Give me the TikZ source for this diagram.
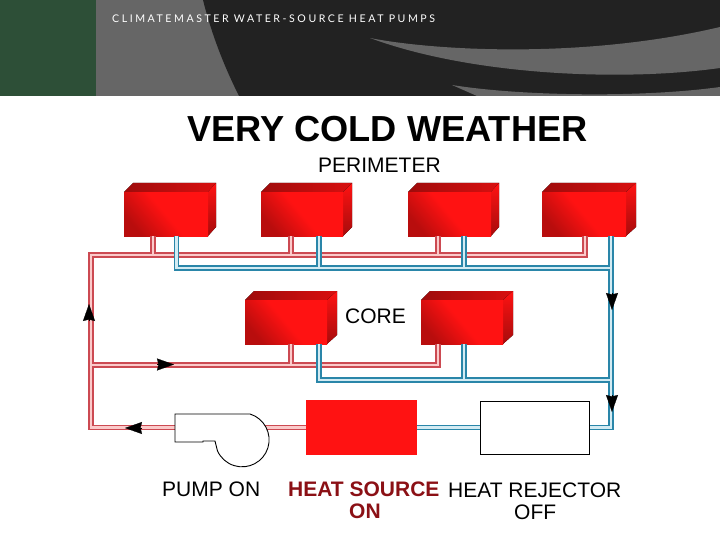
\documentclass[tikz,border=0pt]{standalone}
\usepackage{fontspec}
\setmainfont{Liberation Sans}
\newfontfamily\bannerfont[LetterSpace=24]{Lato}
\usetikzlibrary{arrows.meta,positioning,calc}
\definecolor{bannergreen}{HTML}{2D4F37}
\definecolor{bannergray}{HTML}{666666}
\definecolor{bannerdark}{HTML}{222222}
\definecolor{boxred}{HTML}{FF1212}
\definecolor{labelred}{HTML}{8B1015}
\definecolor{redwall}{HTML}{CC4A52}
\definecolor{redcore}{HTML}{FBCACA}
\definecolor{bluewall}{HTML}{2A86A9}
\definecolor{bluecore}{HTML}{D3EBF3}
\tikzset{
  redpipe/.style={draw=redwall, line width=1.3pt, double=redcore, double distance=2.8pt},
  bluepipe/.style={draw=bluewall, line width=1.3pt, double=bluecore, double distance=2.8pt},
  flowtip/.style={-{Stealth[length=17pt,width=12pt,inset=1.5pt]}, black, line width=0.2pt},
  caption/.style={inner sep=0pt, anchor=west, font=\fontsize{21}{21}\selectfont, text=black},
  redcaption/.style={caption, text=labelred, font=\fontsize{21}{21}\selectfont\bfseries},
  frontface/.style={anchor=north west, inner sep=0pt, minimum height=44pt,
    top color=boxred, bottom color=boxred!72!black, middle color=boxred, shading angle=-50}
}
\begin{document}
\begin{tikzpicture}[x=1pt,y=-1pt]
\useasboundingbox (0,0) rectangle (720,540);
% banner
\fill[bannergray] (0,0) rectangle (720,96);
\fill[bannergreen] (0,0) rectangle (96,96);
\fill[bannerdark] (203,0) .. controls (212,36) and (225,68) .. (239,96) -- (720,96) -- (720,0) -- cycle;
\fill[bannergray] (370,38) .. controls (430,50) and (580,60) .. (720,27) -- (720,68)
  .. controls (620,82) and (470,75) .. (370,38) -- cycle;
\fill[bannergray] (452,85) .. controls (520,96) and (640,98) .. (720,87) -- (720,96) -- (477,96) -- cycle;
\node[anchor=west, inner sep=0pt, text=white, font=\fontsize{10.6}{11}\bannerfont] (bannertext) at (112,18.5) {CLIMATEMASTER WATER-SOURCE HEAT PUMPS};
% titles
\node[anchor=west, inner sep=0pt, font=\fontsize{36.2}{37}\selectfont\bfseries] (title) at (187,129.5) {VERY COLD WEATHER};
\node[caption] (perimeter) at (318,165) {PERIMETER};
% fan coil boxes
\foreach \name/\xa/\xb/\xc/\ytop in {perimA/124/208/216/183, perimB/261/343/352/183, perimC/408/491/499/183,
    perimD/542/626/636/183, coreA/245/327/337/291, coreB/421/503/513/291}{
  \fill[left color=boxred!62!black, right color=boxred!85!black] (\xa,\ytop+9) -- (\xa+9,\ytop) -- (\xc,\ytop) -- (\xb,\ytop+9) -- cycle;
  \fill[top color=boxred, bottom color=boxred!65!black] (\xb,\ytop+9) -- (\xc,\ytop) -- (\xc,\ytop+44) -- (\xb,\ytop+53) -- cycle;
  \node[frontface, minimum width={(\xb-\xa)*1pt}] (\name) at (\xa,\ytop+9) {};
}
% plant boxes
\node[fill=boxred, inner sep=0pt, minimum width=111pt, minimum height=55pt, anchor=north west] (heatsource) at (306,400) {};
\node[draw=black, line width=1pt, inner sep=0pt, minimum width=109pt, minimum height=53pt, anchor=north west] (rejector) at (480,401) {};
\coordinate (redtop) at (91,255);
\coordinate (redmid) at (91,365);
\coordinate (redlow) at (heatsource.west -| redtop);
\coordinate (bluetop) at (611,268);
\coordinate (bluemid) at (611,380);
% red pipes
\draw[redpipe] ([xshift=29pt]perimA.south west) |- (redtop)
  ([xshift=30pt]perimB.south west) |- (redtop)
  ([xshift=30pt]perimC.south west) |- (redtop)
  ([xshift=46pt]coreA.south west) |- (redmid)
  ([xshift=17pt]coreB.south west) |- (redmid)
  ([xshift=43pt]perimD.south west) |- (redtop) -- (redlow) -- (heatsource.west);
% blue pipes
\draw[bluepipe] ([xshift=52.5pt]perimA.south west) |- (bluetop)
  ([xshift=58pt]perimB.south west) |- (bluetop)
  ([xshift=56pt]perimC.south west) |- (bluetop)
  ([xshift=74pt]coreA.south west) |- (bluemid)
  ([xshift=43pt]coreB.south west) |- (bluemid)
  ([xshift=69pt]perimD.south west) |- (heatsource.east -| rejector.east)
  (heatsource.east -| rejector.west) -- (heatsource.east);
% pump
\draw[black, line width=0.9pt, fill=white] (175,414) -- (250,414) arc[start angle=-73, end angle=156, radius=27]
  -- (215,441) -- (203,441) -- (203,442) -- (175,442) -- cycle;
% flow arrows
\draw[flowtip] (89,321) -- (89,304);
\draw[flowtip] (157,364.5) -- (174,364.5);
\draw[flowtip] (142,428) -- (125,428);
\draw[flowtip] (612,293) -- (612,310);
\draw[flowtip] (612,395) -- (612,412);
% labels
\node[caption] (corelabel) at (345,316) {CORE};
\node[caption] (pumplabel) at (162,489.5) {PUMP ON};
\node[redcaption] (sourcelabel) at (288,489.5) {HEAT SOURCE};
\node[redcaption] (sourcestate) at (349,511) {ON};
\node[caption] (rejectorlabel) at (448,490.5) {HEAT REJECTOR};
\node[caption] (rejectorstate) at (514,512) {OFF};
\end{tikzpicture}
\end{document}
